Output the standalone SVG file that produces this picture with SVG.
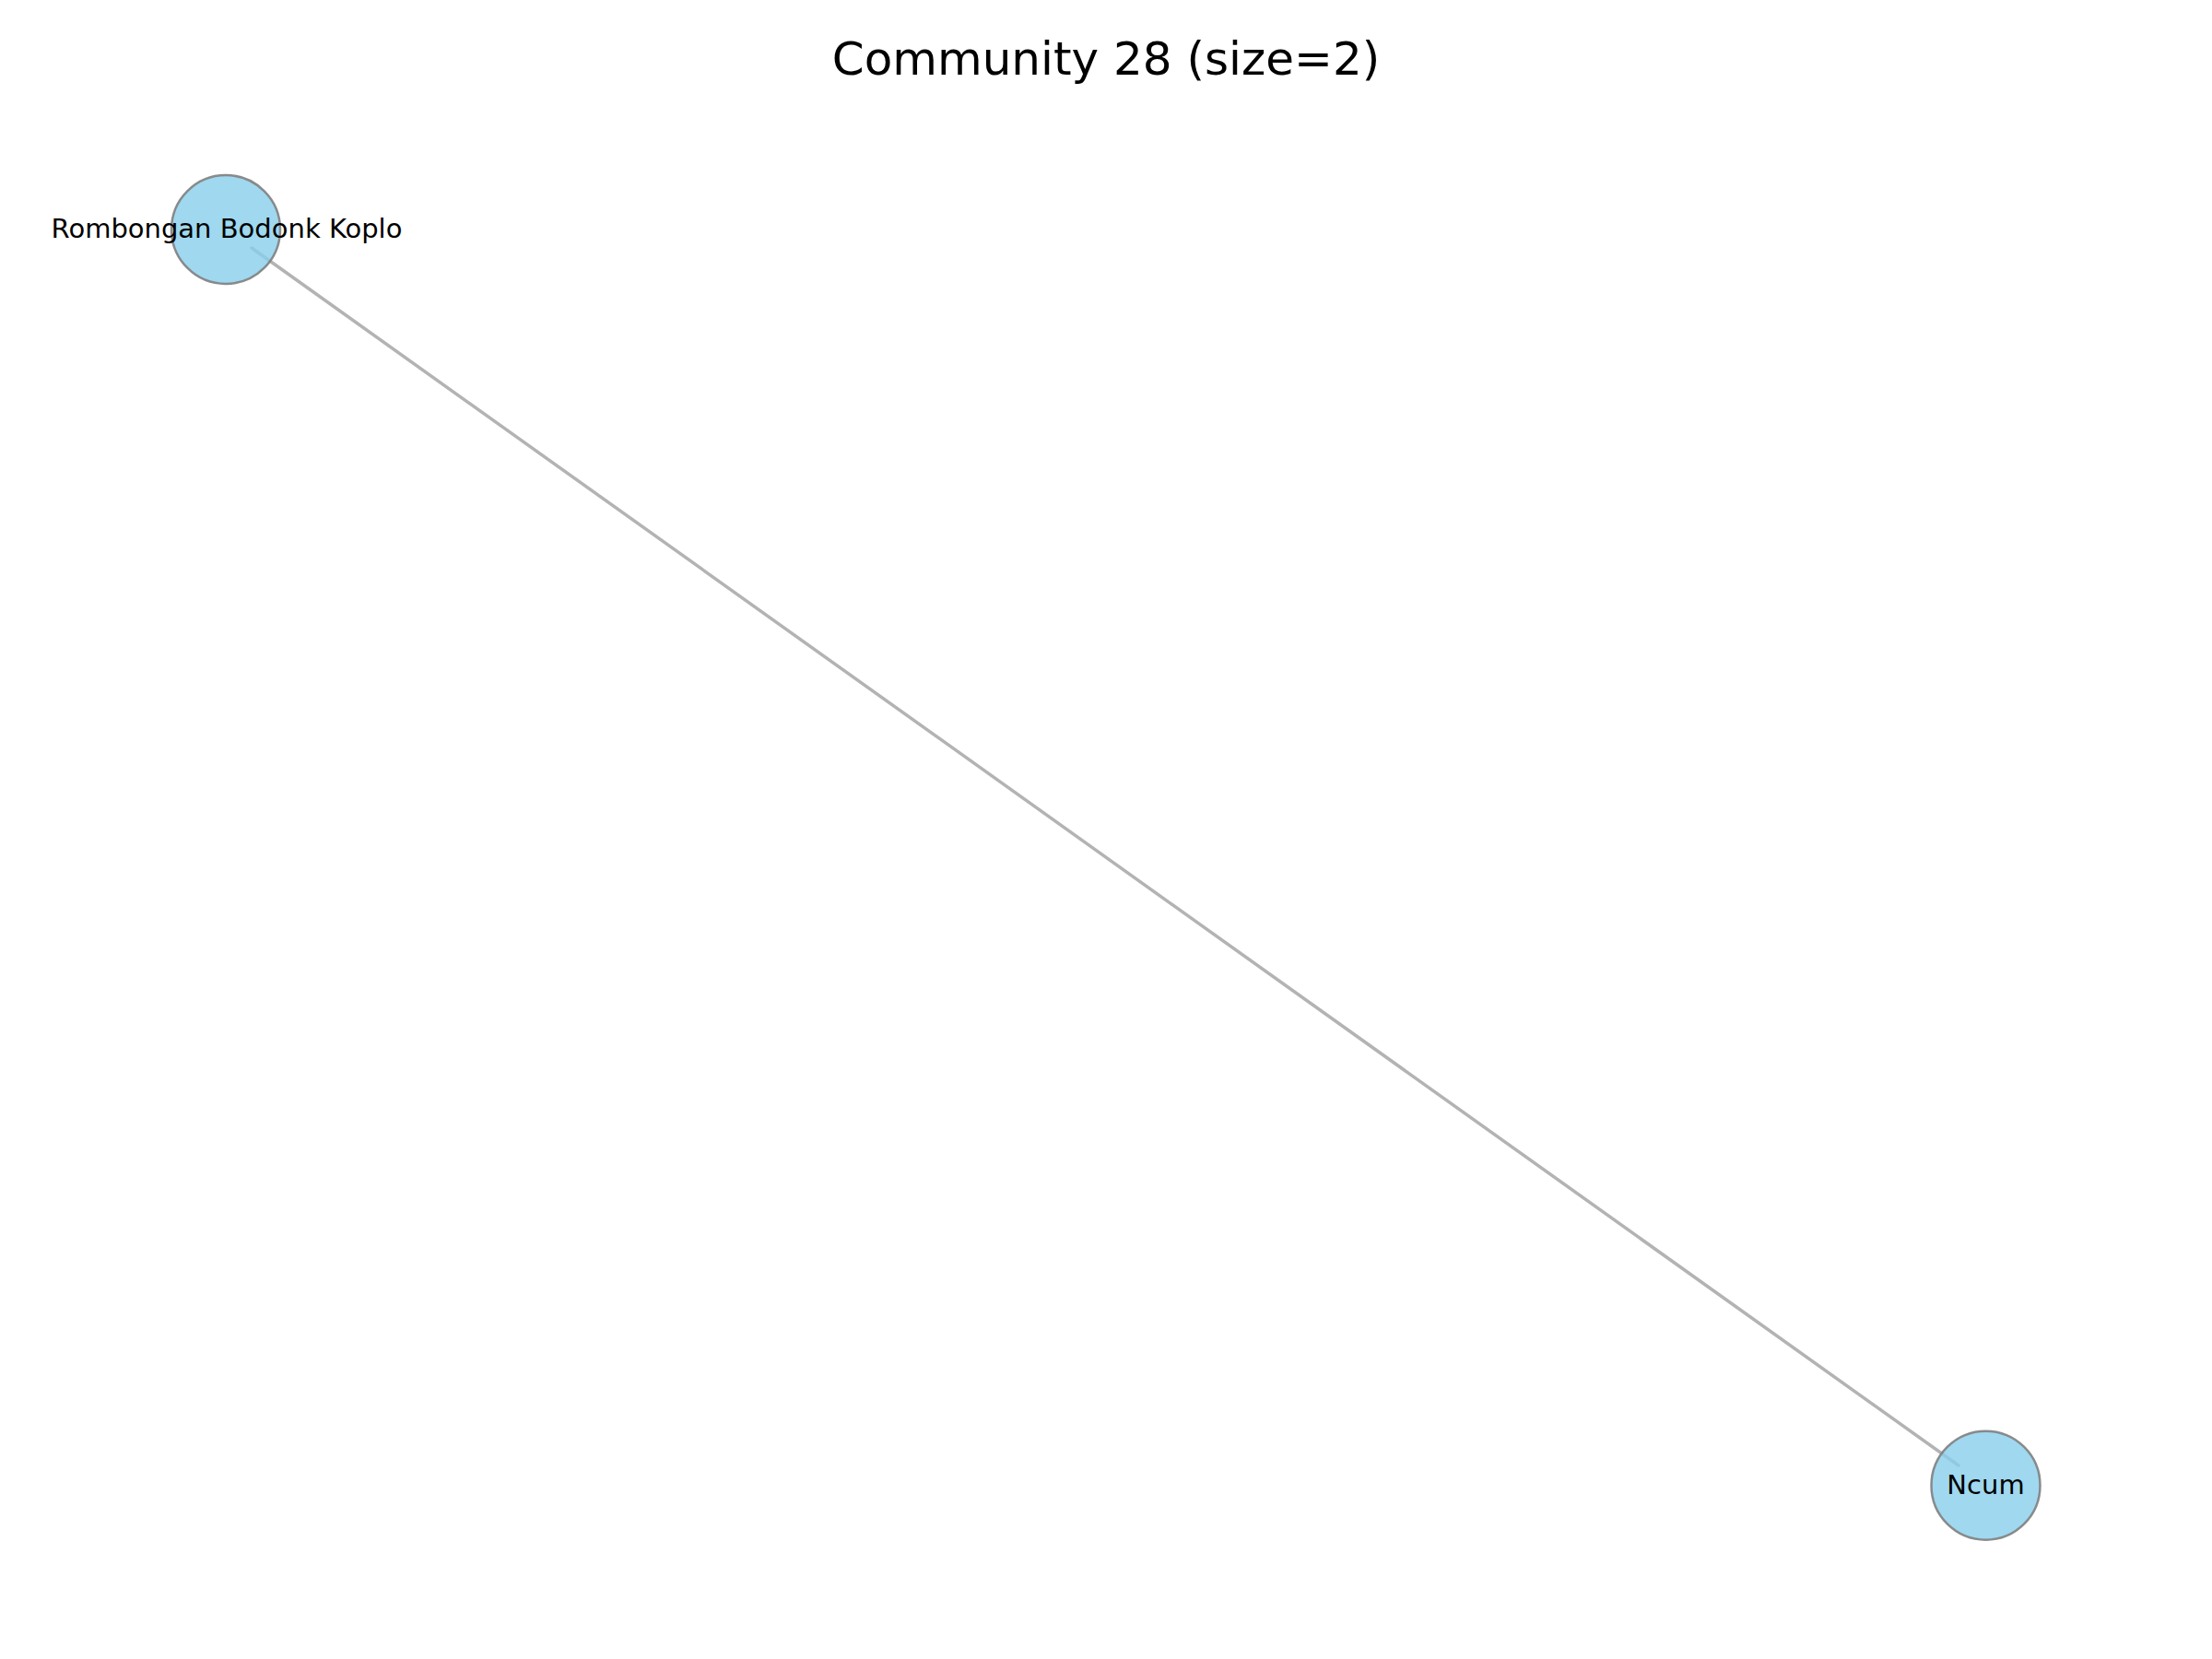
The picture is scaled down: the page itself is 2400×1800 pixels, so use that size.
<svg xmlns="http://www.w3.org/2000/svg" width="2400" height="1800" viewBox="0 0 2400 1800">
<style>
.node{fill:#87CEEB;fill-opacity:0.8;stroke:#808080;stroke-opacity:0.9;stroke-width:2.5}
.lbl{font-family:"DejaVu Sans",sans-serif;font-size:29px;fill:#000;text-anchor:middle}
.edge{stroke:#808080;stroke-opacity:0.6;stroke-width:3.5;stroke-linecap:round;fill:none}
</style>
<rect width="2400" height="1800" fill="#fff"/>
<text x="1200" y="81" font-family="DejaVu Sans, sans-serif" font-size="50" text-anchor="middle" fill="#000">Community 28 (size=2)</text>
<g id="edges">
<line class="edge" x1="273" y1="269" x2="2125" y2="1590"/>
</g>
<g id="node-rombongan">
<circle class="node" cx="245" cy="249" r="59"/>
<text class="lbl" x="246" y="258">Rombongan Bodonk Koplo</text>
</g>
<g id="node-ncum">
<circle class="node" cx="2154.5" cy="1611.7" r="59"/>
<text class="lbl" x="2154.5" y="1621">Ncum</text>
</g>
</svg>
